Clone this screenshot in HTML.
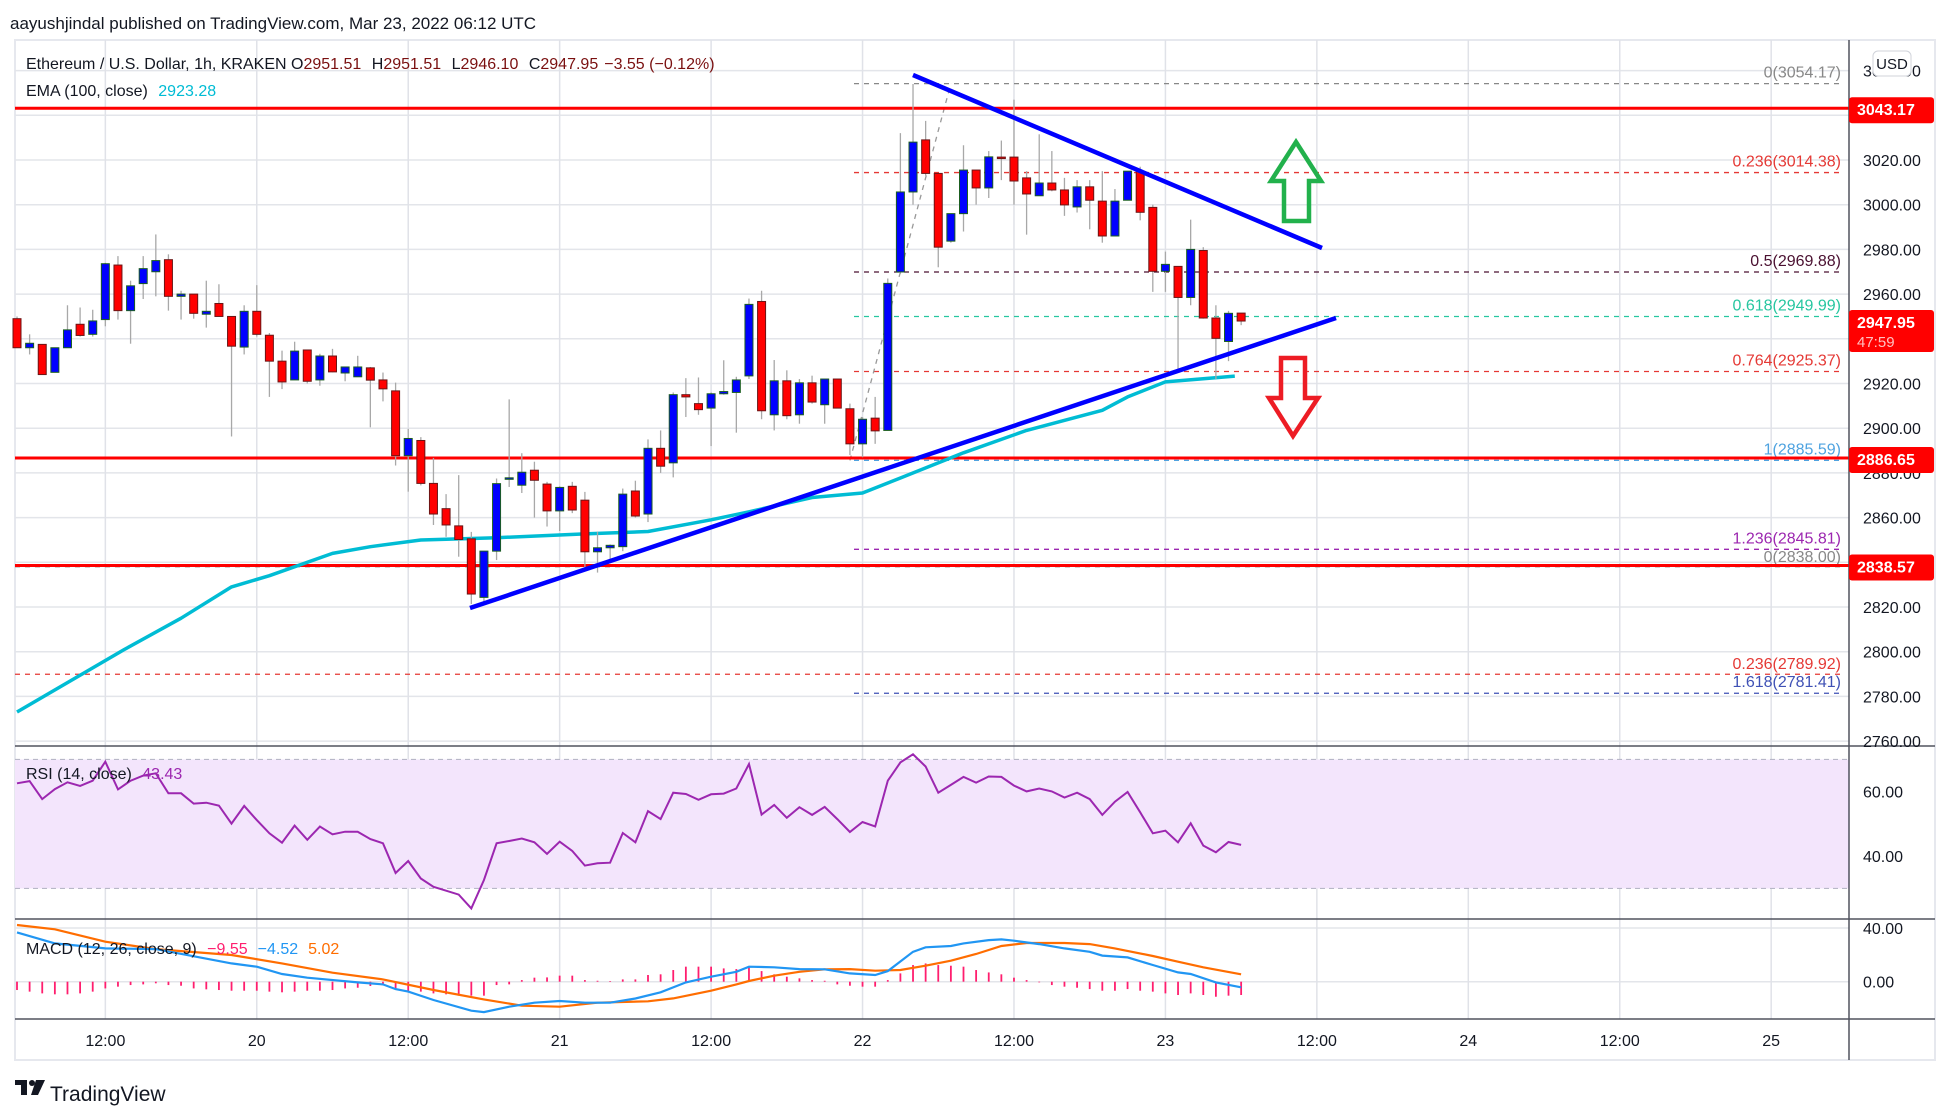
<!DOCTYPE html>
<html><head><meta charset="utf-8">
<style>
html,body{margin:0;padding:0;background:#fff;width:1950px;height:1114px;overflow:hidden;}
svg text{font-family:"Liberation Sans",sans-serif;}
</style></head>
<body>
<svg id="chart" xmlns="http://www.w3.org/2000/svg" width="1950" height="1114" viewBox="0 0 1950 1114">
<text x="10" y="29" font-size="17" fill="#131722">aayushjindal published on TradingView.com, Mar 23, 2022 06:12 UTC</text>
<rect x="15" y="40" width="1920" height="1020" fill="none" stroke="#e6e8ee" stroke-width="2"/>
<g id="grid"></g>
<rect id="rsiband" fill="#f3e5fc"/>
<g id="layer"></g>
<g id="axes"></g>
<g>
<text x="26" y="69" font-size="16" fill="#131722">Ethereum / U.S. Dollar, 1h, KRAKEN <tspan fill="#131722">O</tspan><tspan fill="#7a1010">2951.51</tspan> <tspan dx="6">H</tspan><tspan fill="#7a1010">2951.51</tspan> <tspan dx="6">L</tspan><tspan fill="#7a1010">2946.10</tspan> <tspan dx="6">C</tspan><tspan fill="#7a1010">2947.95</tspan><tspan dx="6" fill="#7a1010">−3.55 (−0.12%)</tspan></text>
<text x="26" y="96" font-size="16" fill="#131722">EMA (100, close) <tspan dx="6" fill="#00bcd4">2923.28</tspan></text>
<text x="26" y="779" font-size="16" fill="#131722">RSI (14, close) <tspan dx="6" fill="#9c27b0">43.43</tspan></text>
<text x="26" y="954" font-size="16" fill="#131722">MACD (12, 26, close, 9) <tspan dx="6" fill="#ff1e6e">−9.55</tspan><tspan dx="10" fill="#2196f3">−4.52</tspan><tspan dx="10" fill="#ff6d00">5.02</tspan></text>
</g>
<g>
<rect x="15" y="1080" width="12" height="5" fill="#131722"/><rect x="21" y="1080" width="6" height="15" fill="#131722"/>
<circle cx="32" cy="1083" r="3" fill="#131722"/><polygon points="36,1080 45,1080 38,1095 31,1095" fill="#131722"/>
<text x="50" y="1101" font-size="21" fill="#131722">TradingView</text>
</g>
</svg>
<script>
const candles=[[2949,2950,2936,2936],[2936,2942,2933,2938],[2937.5,2937.5,2924,2924],[2925,2936,2925,2936],[2936,2955,2936,2944],[2946.5,2954,2941,2941.5],[2942,2953,2941,2948],[2948.6,2974,2945.6,2973.6],[2973,2977,2948.6,2952.6],[2952.6,2966,2937.8,2963.7],
[2964.7,2977,2957.8,2971.4],[2970,2986.7,2959,2975],[2975.4,2977.8,2952.6,2959],[2959,2961.5,2948.6,2960],[2960,2960,2949,2951.4],[2951,2966,2945,2952.3],[2955.8,2964.4,2950,2950],[2950,2950,2896.3,2936.7],[2936.3,2955,2933,2952.3],[2952.3,2964,2941,2942],
[2941.6,2942.6,2914,2930],[2930,2934.7,2917.5,2920.7],[2921.6,2938.7,2921.6,2934.5],[2935,2935,2920,2921],[2921.6,2933.3,2919,2932.3],[2932.3,2935.5,2925,2925.2],[2924.7,2927.4,2921,2927.4],[2923,2932.4,2923,2927.4],[2927,2927.4,2900.4,2921.5],[2921.6,2924.9,2912,2917.6],
[2916.7,2920.4,2883.3,2887.7],[2887.7,2899.7,2871.6,2895.4],[2894.5,2896,2874.4,2875.3],[2875.3,2886.7,2856.7,2861.6],[2864,2870.5,2851.4,2856.7],[2856.3,2879,2842.5,2850.2],[2850.5,2853.6,2821.3,2825.8],[2824.3,2845,2821,2845],[2845,2877.5,2841,2875.2],[2877.6,2912.9,2873.7,2877.8],
[2874.5,2888.8,2871,2880.3],[2881.2,2885,2860,2876.7],[2875,2876,2856,2863],[2863,2874,2854,2873.5],[2874,2876,2862,2863.4],[2867.8,2871.5,2837,2844.7],[2844.7,2853.7,2835.4,2846.5],[2846.5,2848,2840,2847.6],[2847,2873,2845,2870.5],[2871.9,2876.5,2860,2860.7],
[2861.6,2895,2858,2891],[2891,2899,2880,2883],[2884.5,2916,2878,2915],[2915,2922.4,2905,2914],[2911,2922.7,2906,2908.3],[2909,2916,2892,2915.4],[2915.4,2930.4,2915,2916.4],[2916,2923,2898,2921.6],[2923.4,2958,2922,2955.4],[2956.7,2961.5,2904,2907.8],
[2906,2930.5,2899,2921.2],[2921.2,2925.9,2904,2905.6],[2906,2922,2902,2920.3],[2920.3,2923.5,2911,2911.7],[2910.5,2922,2902,2922],[2922,2922,2909,2909],[2908.7,2911,2888,2893],[2893,2905,2887,2904],[2904.5,2914,2893,2898.8],[2899,2967,2899,2964.8],
[2969.9,3032,2969,3005.7],[3005.7,3054,3000,3028],[3029,3037.5,3013,3014],[3014,3014,2972,2981],[2983.7,2996,2983,2996],[2996,3026.6,2988,3015.5],[3015.5,3015.5,3000,3007.5],[3007.5,3024,3003,3021.4],[3021.3,3028.7,3011,3020.7],[3021.3,3047,3000,3010.6],
[3012,3015,2986.6,3004.8],[3004,3031.5,3004,3009.7],[3009.7,3024,3006,3006.6],[3006.6,3012,2995,2999.9],[2999,3011,2996.5,3008],[3008,3011,2989,3002],[3001.6,3015,2983,2986],[2986,3007,2986,3001.6],[3002,3015,3002,3015],[3015,3017,2993,2996.6],
[2998.8,3000,2961,2970.2],[2970.2,2979,2961,2973.3],[2972.4,2972.4,2925,2958.5],[2958.5,2993.3,2955,2980],[2979.5,2981,2949,2949.3],[2949.3,2955,2922,2940.2],[2938.8,2952.5,2930,2951.4],[2951.5,2951.5,2946.1,2947.95]];
const emaIdx=[0,8.5,13,17,20,25,28,32,38,45,50,55,58,63,67,70,75,80,86,88,91,96.5];
const emaVal=[2773,2801,2815,2829,2834,2844,2847,2850,2851,2852.7,2853.8,2859,2862.6,2869,2871,2877.7,2889,2899,2908,2914,2920.7,2923.3];
const rsiVal=[62.6,63.3,57.7,60.8,62.9,61.8,63.4,69.3,60.7,63.4,65,65.7,59.5,59.5,56.3,56.6,55.7,50.1,55.6,51.2,47.1,44.2,49.5,45.1,49.2,46.8,47.6,47.6,45.3,44,34.8,38.5,33.1,30.5,29.3,28.1,23.8,32.6,44,44.7,45.5,44.3,40.7,44.5,41.6,37.1,37.8,38,47.2,44.3,54,51.5,59.7,59.3,57.5,59.2,59.4,61,68.6,52.9,55.9,51.9,55.2,52.8,55.3,51.5,47.5,50.6,49.2,63.4,69.1,71.6,67.8,59.7,62.1,64.6,62.8,64.7,64.6,61.9,60.1,61,60.1,58.2,59.7,57.7,52.8,56.9,59.9,53.6,47.1,47.9,44.3,50.2,43.3,41.2,44.4,43.5];
const macdIdx=[0,3,7,11,17,19,21,23,27,29,30,31,33,36,37,39,41,43,45,47,49,51,53,55,57,58,60,62,64,66,68,69,71,72,74,75,77,78,79,81,83,85,86,88,90,92,93,95,97];
const macdVal=[36.7,28.5,24.8,24.3,13.6,11.2,5.7,3,-0.5,-2,-5.5,-7.4,-13.6,-21.6,-22.6,-18.6,-15.6,-14.4,-15.6,-15.6,-12.5,-7.9,-0.5,3.7,7.4,11.2,10.7,9.4,9.2,6.2,5,7.9,22.3,25.6,26.6,28.5,31,31.5,30.5,28,24.8,22.3,19.4,18.1,12.4,6.9,5.7,-0.5,-4.2];
const sigIdx=[0,3,7,11,17,21,25,29,33,37,40,43,46,50,52,55,57,58,60,62,64,66,68,70,72,74,76,78,80,83,85,87,90,92,94,97];
const sigVal=[42.2,39,29.8,24.3,19.9,13.6,6.7,1.7,-6.2,-13.2,-17.9,-18.6,-15.6,-14.6,-12.4,-6.7,-2,0.5,4.5,7.4,9.2,9.4,8.2,8.7,11.9,15.6,20.6,26.6,28.8,28.8,28,24.8,19.1,14.9,10.7,5.5];
const histVal=[-6.2,-7.4,-8.7,-9.4,-9.4,-8.7,-7.4,-5,-3.7,-2.5,-2,-1.2,-2.5,-3,-5,-5.7,-6.2,-6.7,-6.7,-6.7,-7.4,-7.9,-7.4,-6.7,-6.7,-6.2,-5,-4.5,-3.2,-2,-5,-7.4,-7.4,-8.7,-9.4,-10.4,-10.4,-10.4,-2.5,-2,1.2,3,3.2,4.5,4.5,1.2,0.7,0.5,1.7,1.7,5,5.5,8.7,11.2,11.2,11.2,9.9,9.4,11,7.9,5.5,3.7,2.5,1.2,0.7,-2,-3,-3.7,-3.7,1.2,6.2,12.4,13.6,12.4,11.9,11.2,8.7,6.9,5.5,3,1.2,-0.5,-2.5,-3.7,-4.5,-5.5,-6.7,-6.7,-5.5,-6.7,-7.4,-8.7,-9.9,-8.7,-9.9,-11.2,-10.4,-9.9];
const priceTicks=[3060,3040,3020,3000,2980,2960,2940,2920,2900,2880,2860,2840,2820,2800,2780,2760];
const timeIdx=[7,19,31,43,55,67,79,91,103,115,127,139];
const timeLbl=["12:00","20","12:00","21","12:00","22","12:00","23","12:00","24","12:00","25"];
const hLevels=[3043.17,2886.65,2838.57];
const fibVal=[3054.17,3014.38,2969.88,2949.99,2925.37,2885.59,2845.81,2781.41];
const fibLbl=["0","0.236","0.5","0.618","0.764","1","1.236","1.618"];
const fibCol=["#888888","#e53935","#4a1030","#26c6a0","#e53935","#4fa3e0","#9c27b0","#3f51b5"];
const fib2Val=[2838.00,2789.92];
const fib2Lbl=["0","0.236"];
const fib2Col=["#888888","#e53935"];

const NS="http://www.w3.org/2000/svg";
const L=15,R=1849;
const X=i=>17+i*12.62;
const Y=p=>160+(3020-p)*2.235;
const RY=r=>791.7+(60-r)*3.225;
const MY=m=>981.7-m*1.343;
function mk(parent,tag,attrs){const e=document.createElementNS(NS,tag);for(const k in attrs)e.setAttribute(k,attrs[k]);document.getElementById(parent).appendChild(e);return e;}

for(let k=0;k<priceTicks.length;k++){const g=mk('grid','line',{x1:L,x2:R,y1:Y(priceTicks[k]),y2:Y(priceTicks[k]),stroke:'#e3e5ea','stroke-width':1.5});

}
[60,40].forEach(r=>{const g=mk('grid','line',{x1:L,x2:R,y1:RY(r),y2:RY(r),stroke:'#d9cde6','stroke-width':1.5});

});
[40,0].forEach(m=>{const g=mk('grid','line',{x1:L,x2:R,y1:MY(m),y2:MY(m),stroke:'#e3e5ea','stroke-width':1.5});

});
for(let k=0;k<timeIdx.length;k++){const g=mk('grid','line',{x1:X(timeIdx[k]),x2:X(timeIdx[k]),y1:40,y2:1019,stroke:'#e0e2e8','stroke-width':1.5});

}
const band=document.getElementById('rsiband');
band.setAttribute('x',L);band.setAttribute('y',RY(70));band.setAttribute('width',R-L);band.setAttribute('height',RY(30)-RY(70));
[70,30].forEach(r=>{const g=mk('layer','line',{x1:L,x2:R,y1:RY(r),y2:RY(r),stroke:'#b8b8c8','stroke-width':1.2,'stroke-dasharray':'5,4'});

});

for(let k=0;k<fib2Val.length;k++){const y=Y(fib2Val[k]);
const l=mk('layer','line',{x1:L,x2:R-6,y1:y,y2:y,stroke:fib2Col[k],'stroke-width':1.3,'stroke-dasharray':'5,5'});


const t=mk('layer','text',{x:R-8,y:y-5,'text-anchor':'end','font-size':16,fill:fib2Col[k]});t.textContent=fib2Lbl[k]+'('+fib2Val[k].toFixed(2)+')';

}
for(let k=0;k<fibVal.length;k++){const y=Y(fibVal[k]);
const l=mk('layer','line',{x1:854,x2:R-6,y1:y,y2:y,stroke:fibCol[k],'stroke-width':1.3,'stroke-dasharray':'5,5'});


const t=mk('layer','text',{x:R-8,y:y-6,'text-anchor':'end','font-size':16,fill:fibCol[k]});t.textContent=fibLbl[k]+'('+fibVal[k].toFixed(2)+')';

}
const dg=mk('layer','line',{x1:X(66),y1:Y(2885.59),x2:X(74),y2:Y(3054.17),stroke:'#999','stroke-width':1.3,'stroke-dasharray':'5,5'});



for(let k=0;k<hLevels.length;k++){const l=mk('layer','line',{x1:L,x2:R,y1:Y(hLevels[k]),y2:Y(hLevels[k]),stroke:'#ff0000','stroke-width':3});

}

let ep='';for(let k=0;k<emaIdx.length;k++)ep+=(k?'L':'M')+X(emaIdx[k]).toFixed(1)+','+Y(emaVal[k]).toFixed(1);
const ema=mk('layer','path',{d:ep,fill:'none',stroke:'#00bcd4','stroke-width':3.5,'stroke-linejoin':'round'});



for(let i=0;i<candles.length;i++){const [o,h,l,c]=candles[i];const x=X(i);const up=c>=o;
const w=mk('layer','line',{x1:x,x2:x,y1:Y(h),y2:Y(l),stroke:'#a8a8a8','stroke-width':1.3});


const top=Y(Math.max(o,c)),bot=Y(Math.min(o,c));
const b=mk('layer','rect',{x:x-4,y:top,width:8,height:Math.max(1.5,bot-top),fill:up?'#0000ff':'#ff0000',stroke:up?'#1b5e20':'#6b1515','stroke-width':1});

}

const t1=mk('layer','line',{x1:470,y1:608,x2:1336,y2:318,stroke:'#0000ff','stroke-width':4.5});


const t2=mk('layer','line',{x1:913,y1:75,x2:1322,y2:248,stroke:'#0000ff','stroke-width':4.5});


const a1=mk('layer','polygon',{points:'1296,142 1321,181 1309,181 1309,221 1284,221 1284,181 1271,181',fill:'none',stroke:'#22b14c','stroke-width':4.5,'stroke-linejoin':'miter'});


const a2=mk('layer','polygon',{points:'1281,358 1305,358 1305,398 1318,398 1293,436 1269,398 1281,398',fill:'none',stroke:'#ed1c24','stroke-width':4.5});



let rp='';for(let i=0;i<rsiVal.length;i++)rp+=(i?'L':'M')+X(i).toFixed(1)+','+RY(rsiVal[i]).toFixed(1);
const rsi=mk('layer','path',{d:rp,fill:'none',stroke:'#9c27b0','stroke-width':2});



for(let i=0;i<histVal.length;i++){const hb=mk('layer','line',{x1:X(i),x2:X(i),y1:MY(0),y2:MY(histVal[i]),stroke:'#ff1e6e','stroke-width':1.8});

}
let sp='';for(let k=0;k<sigIdx.length;k++)sp+=(k?'L':'M')+X(sigIdx[k]).toFixed(1)+','+MY(sigVal[k]).toFixed(1);
const sig=mk('layer','path',{d:sp,fill:'none',stroke:'#ff6d00','stroke-width':2.2});


let mp='';for(let k=0;k<macdIdx.length;k++)mp+=(k?'L':'M')+X(macdIdx[k]).toFixed(1)+','+MY(macdVal[k]).toFixed(1);
const mac=mk('layer','path',{d:mp,fill:'none',stroke:'#2196f3','stroke-width':2.2});



[[L,746,R,746],[L,919,R,919],[L,1019,R,1019]].forEach(s=>{const l=mk('axes','line',{x1:s[0],y1:s[1],x2:1935,y2:s[3],stroke:'#50535e','stroke-width':1.5});

});
const ax=mk('axes','line',{x1:R,x2:R,y1:40,y2:1060,stroke:'#50535e','stroke-width':1.5});


for(let k=0;k<priceTicks.length;k++){const t=mk('axes','text',{x:1863,y:Y(priceTicks[k])+6,'font-size':16,fill:'#131722'});t.textContent=priceTicks[k].toFixed(2);

}
[[60,RY(60)],[40,RY(40)],[40,MY(40)],[0,MY(0)]].forEach(p=>{const t=mk('axes','text',{x:1863,y:p[1]+6,'font-size':16,fill:'#131722'});t.textContent=p[0].toFixed(2);

});
for(let k=0;k<timeIdx.length;k++){const t=mk('axes','text',{x:X(timeIdx[k]),y:1046,'text-anchor':'middle','font-size':16,fill:'#131722'});t.textContent=timeLbl[k];

}
[[3043.17,'3043.17'],[2886.65,'2886.65'],[2838.57,'2838.57']].forEach(b=>{const y=Y(b[0]);
const r=mk('axes','rect',{x:R,y:y-11,width:85,height:26,rx:3,fill:'#ff0000'});


const t=mk('axes','text',{x:R+8,y:y+7,'font-size':16,'font-weight':'bold',fill:'#fff'});t.textContent=b[1];

});
const lp=mk('axes','rect',{x:R,y:310,width:85,height:42,rx:3,fill:'#ff0000'});


const lt=mk('axes','text',{x:R+8,y:328,'font-size':16,'font-weight':'bold',fill:'#fff'});lt.textContent='2947.95';


const ct=mk('axes','text',{x:R+8,y:347,'font-size':15,fill:'#ffc0c0'});ct.textContent='47:59';


const ub=mk('axes','rect',{x:1873,y:51,width:38,height:25,rx:5,fill:'#fff',stroke:'#d0d3da','stroke-width':1});


const ut=mk('axes','text',{x:1892,y:69,'text-anchor':'middle','font-size':15,fill:'#131722'});ut.textContent='USD';


</script>
</body></html>
